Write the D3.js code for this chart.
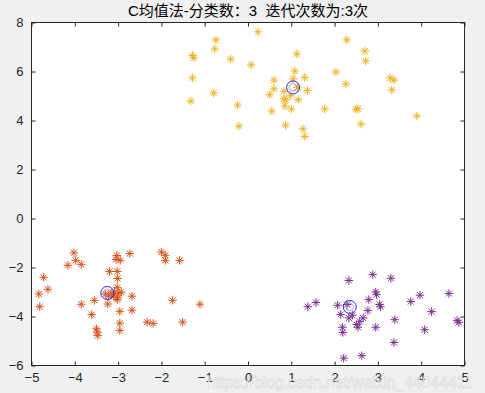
<!DOCTYPE html>
<html><head><meta charset="utf-8">
<script src="https://cdn.jsdelivr.net/npm/d3@7"></script>
<style>
html,body{margin:0;padding:0;background:#f0f0f0;}
svg{display:block;font-family:"Liberation Sans",Arial,"Noto Sans CJK SC",sans-serif;}
</style></head>
<body>
<svg id="chart" width="485" height="393"></svg>
<script>
const titleText = "C均值法-分类数：3  迭代次数为:3次";
const xTicks = [-5,-4,-3,-2,-1,0,1,2,3,4,5];
const yTicks = [-6,-4,-2,0,2,4,6,8];

const yellowX = [0.23,-0.74,-0.77,-1.28,-1.25,-0.40,1.13,0.07,-1.28,1.08,1.31,0.60,1.04,-0.79,0.50,0.60,0.83,1.14,1.37,0.83,0.87,1.16,0.98,-1.32,-0.24,0.85,1.00,0.55,1.77,-0.21,0.87,1.27,1.31,2.28,2.70,2.72,2.03,2.26,3.28,3.37,3.32,2.49,2.54,2.61,3.90];
const yellowY = [7.62,7.29,6.92,6.65,6.56,6.51,6.72,6.27,5.74,6.02,5.75,5.65,5.70,5.12,5.05,5.29,5.19,5.35,5.22,4.88,4.84,4.85,5.01,4.79,4.63,4.59,4.47,4.39,4.47,3.77,3.81,3.66,3.35,7.29,6.84,6.43,5.98,5.49,5.74,5.65,5.25,4.46,4.47,3.85,4.18];

const orangeX = [-4.02,-3.98,-4.16,-3.85,-3.03,-3.05,-2.95,-2.73,-2.00,-1.91,-1.91,-1.58,-4.72,-3.20,-3.02,-3.01,-4.62,-4.83,-4.81,-3.85,-3.55,-3.24,-3.02,-2.68,-2.96,-2.68,-3.61,-1.74,-1.11,-3.50,-3.48,-3.47,-2.96,-2.96,-2.33,-2.19,-1.51,-3.29,-3.16,-3.08,-3.02,-2.98,-2.93,-3.10,-3.01,-3.22];
const orangeY = [-1.40,-1.71,-1.91,-1.87,-1.51,-1.67,-1.71,-1.43,-1.37,-1.50,-1.71,-1.71,-2.40,-2.16,-2.16,-2.45,-2.89,-3.08,-3.60,-3.50,-3.34,-3.49,-3.31,-3.17,-3.79,-3.74,-3.92,-3.34,-3.50,-4.50,-4.64,-4.78,-4.27,-4.57,-4.23,-4.28,-4.23,-3.08,-3.05,-3.01,-2.81,-3.05,-3.01,-3.17,-3.24,-3.17];

const purpleX = [2.33,2.88,3.30,2.95,2.97,2.79,1.38,1.57,2.07,2.29,3.04,3.06,3.76,3.97,4.64,2.14,2.33,2.41,2.77,2.66,2.58,2.51,2.54,2.18,2.19,2.95,3.39,4.24,4.08,4.83,4.87,3.37,2.21,2.63];
const purpleY = [-2.53,-2.29,-2.44,-3.00,-3.11,-3.31,-3.60,-3.43,-3.54,-3.51,-3.51,-3.60,-3.39,-3.13,-3.06,-3.92,-4.06,-3.95,-3.76,-4.06,-4.20,-4.33,-4.44,-4.44,-4.65,-4.44,-4.13,-3.80,-4.54,-4.16,-4.24,-5.06,-5.70,-5.60];

const centerX = [1.04,-3.25,2.35];
const centerY = [5.35,-3.04,-3.61];

const seriesColors = ["#EDB120","#D95319","#7E2F8E"];
const watermark = "https://blog.csdn.net/weixin_44044411";

const svg = d3.select("#chart");
const L = 31.5, R = 464.5, T = 22.5, B = 365.5;
const x = d3.scaleLinear().domain([-5,5]).range([L,R]);
const y = d3.scaleLinear().domain([-6,8]).range([B,T]);

svg.append("rect").attr("x",L).attr("y",T).attr("width",R-L).attr("height",B-T).attr("fill","#fff");

const axColor = "#262626";
const tl = 4;
const gB = svg.append("g").attr("transform",`translate(0,${B})`)
  .call(d3.axisBottom(x).tickValues(xTicks).tickSize(-tl).tickPadding(7).tickFormat(d3.format("d")));
const gT = svg.append("g").attr("transform",`translate(0,${T})`)
  .call(d3.axisTop(x).tickValues(xTicks).tickSize(-tl).tickFormat(""));
const gL = svg.append("g").attr("transform",`translate(${L},0)`)
  .call(d3.axisLeft(y).tickValues(yTicks).tickSize(-tl).tickPadding(8).tickFormat(d3.format("d")));
const gR = svg.append("g").attr("transform",`translate(${R},0)`)
  .call(d3.axisRight(y).tickValues(yTicks).tickSize(-tl).tickFormat(""));
[gB,gT,gL,gR].forEach(g=>{
  g.select(".domain").remove();
  g.selectAll(".tick line").attr("stroke",axColor);
  g.selectAll(".tick text").attr("fill",axColor).attr("font-size","13px")
    .attr("font-family",'"Liberation Sans",Arial,sans-serif');
});
gB.selectAll(".tick text").attr("dy","0.71em");

function star(sel, px, py, color){
  const a = 4.2, d = 3.0;
  const p = `M${px-a},${py}L${px+a},${py}M${px},${py-a}L${px},${py+a}M${px-d},${py-d}L${px+d},${py+d}M${px-d},${py+d}L${px+d},${py-d}`;
  sel.append("path").attr("d",p).attr("stroke",color).attr("stroke-width",1).attr("fill","none");
}
const gp = svg.append("g");
[[yellowX,yellowY],[orangeX,orangeY],[purpleX,purpleY]].forEach(([xs,ys],i)=>{
  xs.forEach((v,j)=>star(gp, x(v), y(ys[j]), seriesColors[i]));
});

const gc = svg.append("g");
centerX.forEach((v,i)=>{
  gc.append("circle").attr("cx",x(v)).attr("cy",y(centerY[i])).attr("r",6.5)
    .attr("fill","none").attr("stroke","#2424f0").attr("stroke-width",1);
  gc.append("circle").attr("cx",x(v)).attr("cy",y(centerY[i])).attr("r",3.8)
    .attr("fill","none").attr("stroke","#8a6fd8").attr("stroke-opacity",0.6).attr("stroke-width",1);
});

svg.append("rect").attr("x",L).attr("y",T).attr("width",R-L).attr("height",B-T)
  .attr("fill","none").attr("stroke",axColor).attr("stroke-width",1);

svg.append("text").attr("x",(L+R)/2).attr("y",16).attr("text-anchor","middle")
  .attr("font-size","15px").attr("fill","#000").style("white-space","pre")
  .attr("font-family",'"Liberation Sans",Arial,"Noto Sans CJK SC",sans-serif')
  .text(titleText);

svg.append("text").attr("x",207).attr("y",388).attr("font-size","16px")
  .attr("textLength",266).attr("lengthAdjust","spacingAndGlyphs")
  .attr("font-family",'"Liberation Sans",Arial,sans-serif')
  .attr("fill","#ffffff").attr("fill-opacity",0.75)
  .attr("stroke","#c8c8c8").attr("stroke-opacity",0.55).attr("stroke-width",0.8)
  .text(watermark);
</script>
</body></html>
